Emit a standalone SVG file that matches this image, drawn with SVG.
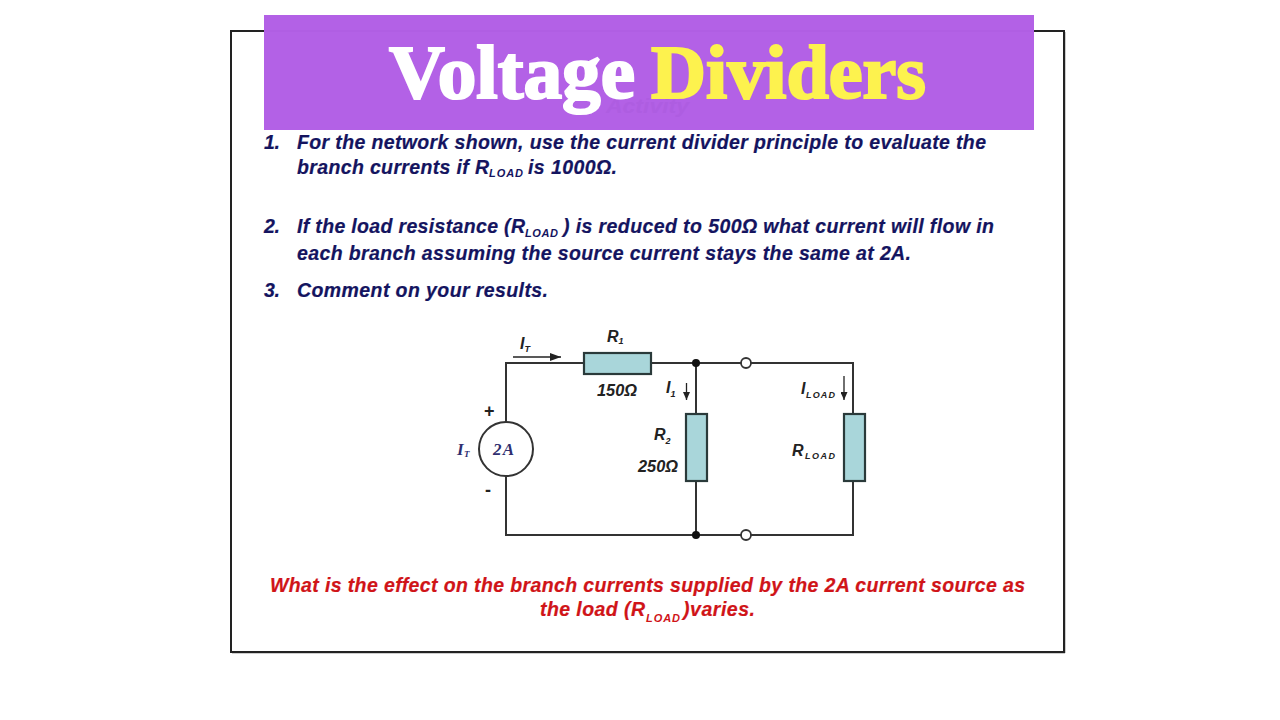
<svg xmlns="http://www.w3.org/2000/svg" width="1280" height="720" viewBox="0 0 1280 720">
<style>
.q{font-family:"Liberation Sans",Arial,sans-serif;font-weight:bold;font-style:italic;font-size:19.5px;fill:#14145f;stroke:#14145f;stroke-width:.2px}
.r{fill:#d01418;stroke:#d01418}
.sub{font-size:11px;stroke-width:0}
.c{font-family:"Liberation Sans",Arial,sans-serif;font-weight:bold;font-style:italic;font-size:16px;fill:#222}
.s{font-size:9px}
.w{fill:none;stroke:#333;stroke-width:2}
.res{fill:#a9d6da;stroke:#2a3a3a;stroke-width:2.2}
.t{font-family:"Liberation Serif","Times New Roman",serif;font-weight:bold;font-size:76px;stroke-width:2.2px}
.src{font-family:"Liberation Serif","Times New Roman",serif;font-weight:bold;font-style:italic;font-size:17px;fill:#2f2f70}
.ar{fill:none;stroke:#222;stroke-width:1.3}
</style>
<defs>
<marker id="a" markerWidth="11" markerHeight="8" refX="11" refY="4" orient="auto" markerUnits="userSpaceOnUse"><path d="M0 0L11 4L0 8z" fill="#222"/></marker>
<marker id="b" markerWidth="8" markerHeight="7" refX="8" refY="3.500" orient="auto" markerUnits="userSpaceOnUse"><path d="M0 0L8 3.500L0 7z" fill="#222"/></marker>
</defs>
<rect width="1280" height="720" fill="#fff"/>
<path d="M232 653H1065V32" fill="none" stroke="#999" stroke-width="1"/>
<rect id="frame" x="231" y="31" width="833" height="621" fill="none" stroke="#222" stroke-width="2"/>
<g id="banner">
<rect x="264" y="15" width="770" height="115" fill="#b25fe6" fill-opacity=".99"/>
<text x="606" y="113" textLength="83" lengthAdjust="spacingAndGlyphs" font-family="'Liberation Sans',Arial,sans-serif" font-style="italic" font-weight="bold" font-size="20" fill="#ae5de1">Activity</text>
<text class="t" x="389" y="98" textLength="246" lengthAdjust="spacingAndGlyphs" fill="#fff" stroke="#fff">Voltage</text>
<text class="t" x="651" y="98" textLength="275" lengthAdjust="spacingAndGlyphs" fill="#fdf24e" stroke="#fdf24e">Dividers</text>
</g>
<g id="questions">
<text class="q" x="264" y="149" textLength="16">1.</text>
<text class="q" x="297" y="149" textLength="689">For the network shown, use the current divider principle to evaluate the</text>
<text class="q" x="297" y="174" textLength="192">branch currents if R</text>
<text class="q sub" x="489" y="177" textLength="34">LOAD</text>
<text class="q" x="528" y="174" textLength="89">is 1000Ω.</text>
<text class="q" x="264" y="233" textLength="16">2.</text>
<text class="q" x="297" y="233" textLength="228">If the load resistance (R</text>
<text class="q sub" x="525" y="237" textLength="33">LOAD</text>
<text class="q" x="563" y="233" textLength="431">) is reduced to 500Ω what current will flow in</text>
<text class="q" x="297" y="260" textLength="614">each branch assuming the source current stays the same at 2A.</text>
<text class="q" x="264" y="297" textLength="16">3.</text>
<text class="q" x="297" y="297" textLength="251">Comment on your results.</text>
</g>
<g id="connectors">
<path class="w" d="M506 422V363H584M650 363H741M751 363H853V414M853 481V535H751M741 535H506V476M696 363V414M696 481V535"/>
<path class="ar" d="M513 357H561" marker-end="url(#a)"/>
<path class="ar" d="M686.500 383V400" marker-end="url(#b)"/>
<path class="ar" d="M844 376V400" marker-end="url(#b)"/>
</g>
<g id="r1"><rect class="res" x="584" y="353" width="67" height="21"/>
<text class="c" x="607" y="342">R<tspan class="s" dy="2">1</tspan></text>
<text class="c" x="597" y="396" textLength="40" lengthAdjust="spacingAndGlyphs">150Ω</text></g>
<g id="r2"><rect class="res" x="686" y="414" width="21" height="67"/>
<text class="c" x="654" y="440">R<tspan class="s" dy="4">2</tspan></text>
<text class="c" x="638" y="472" textLength="40" lengthAdjust="spacingAndGlyphs">250Ω</text></g>
<g id="rload"><rect class="res" x="844" y="414" width="21" height="67"/>
<text class="c" x="792" y="456">R</text><text class="c s" x="805" y="459" textLength="30">LOAD</text></g>
<g id="source"><circle cx="506" cy="449" r="27" fill="#fff" stroke="#333" stroke-width="2"/>
<text class="src" x="493" y="455" textLength="21">2A</text>
<text class="src" x="457" y="455">I</text><text class="src" style="font-size:9px" x="464" y="457">T</text>
<text class="c" x="484" y="417" style="font-style:normal;font-size:18px">+</text>
<text class="c" x="485" y="496" style="font-style:normal;font-size:18px">-</text></g>
<g id="labels">
<text class="c" x="520" y="349">I<tspan class="s" dy="3">T</tspan></text>
<text class="c" x="666" y="393">I<tspan class="s" dy="4">1</tspan></text>
<text class="c" x="801" y="394">I</text><text class="c s" x="806" y="398" textLength="29">LOAD</text>
</g>
<g id="nodes">
<circle cx="696" cy="363" r="4" fill="#111"/><circle cx="696" cy="535" r="4" fill="#111"/>
<circle cx="746" cy="363" r="5" fill="#fff" stroke="#333" stroke-width="1.8"/>
<circle cx="746" cy="535" r="5" fill="#fff" stroke="#333" stroke-width="1.8"/>
</g>
<g id="note">
<text class="q r" x="270" y="592" textLength="755">What is the effect on the branch currents supplied by the 2A current source as</text>
<text class="q r" x="540" y="616" textLength="105">the load (R</text>
<text class="q r sub" x="646" y="622" textLength="34">LOAD</text>
<text class="q r" x="683" y="616" textLength="72">)varies.</text>
</g>
</svg>
